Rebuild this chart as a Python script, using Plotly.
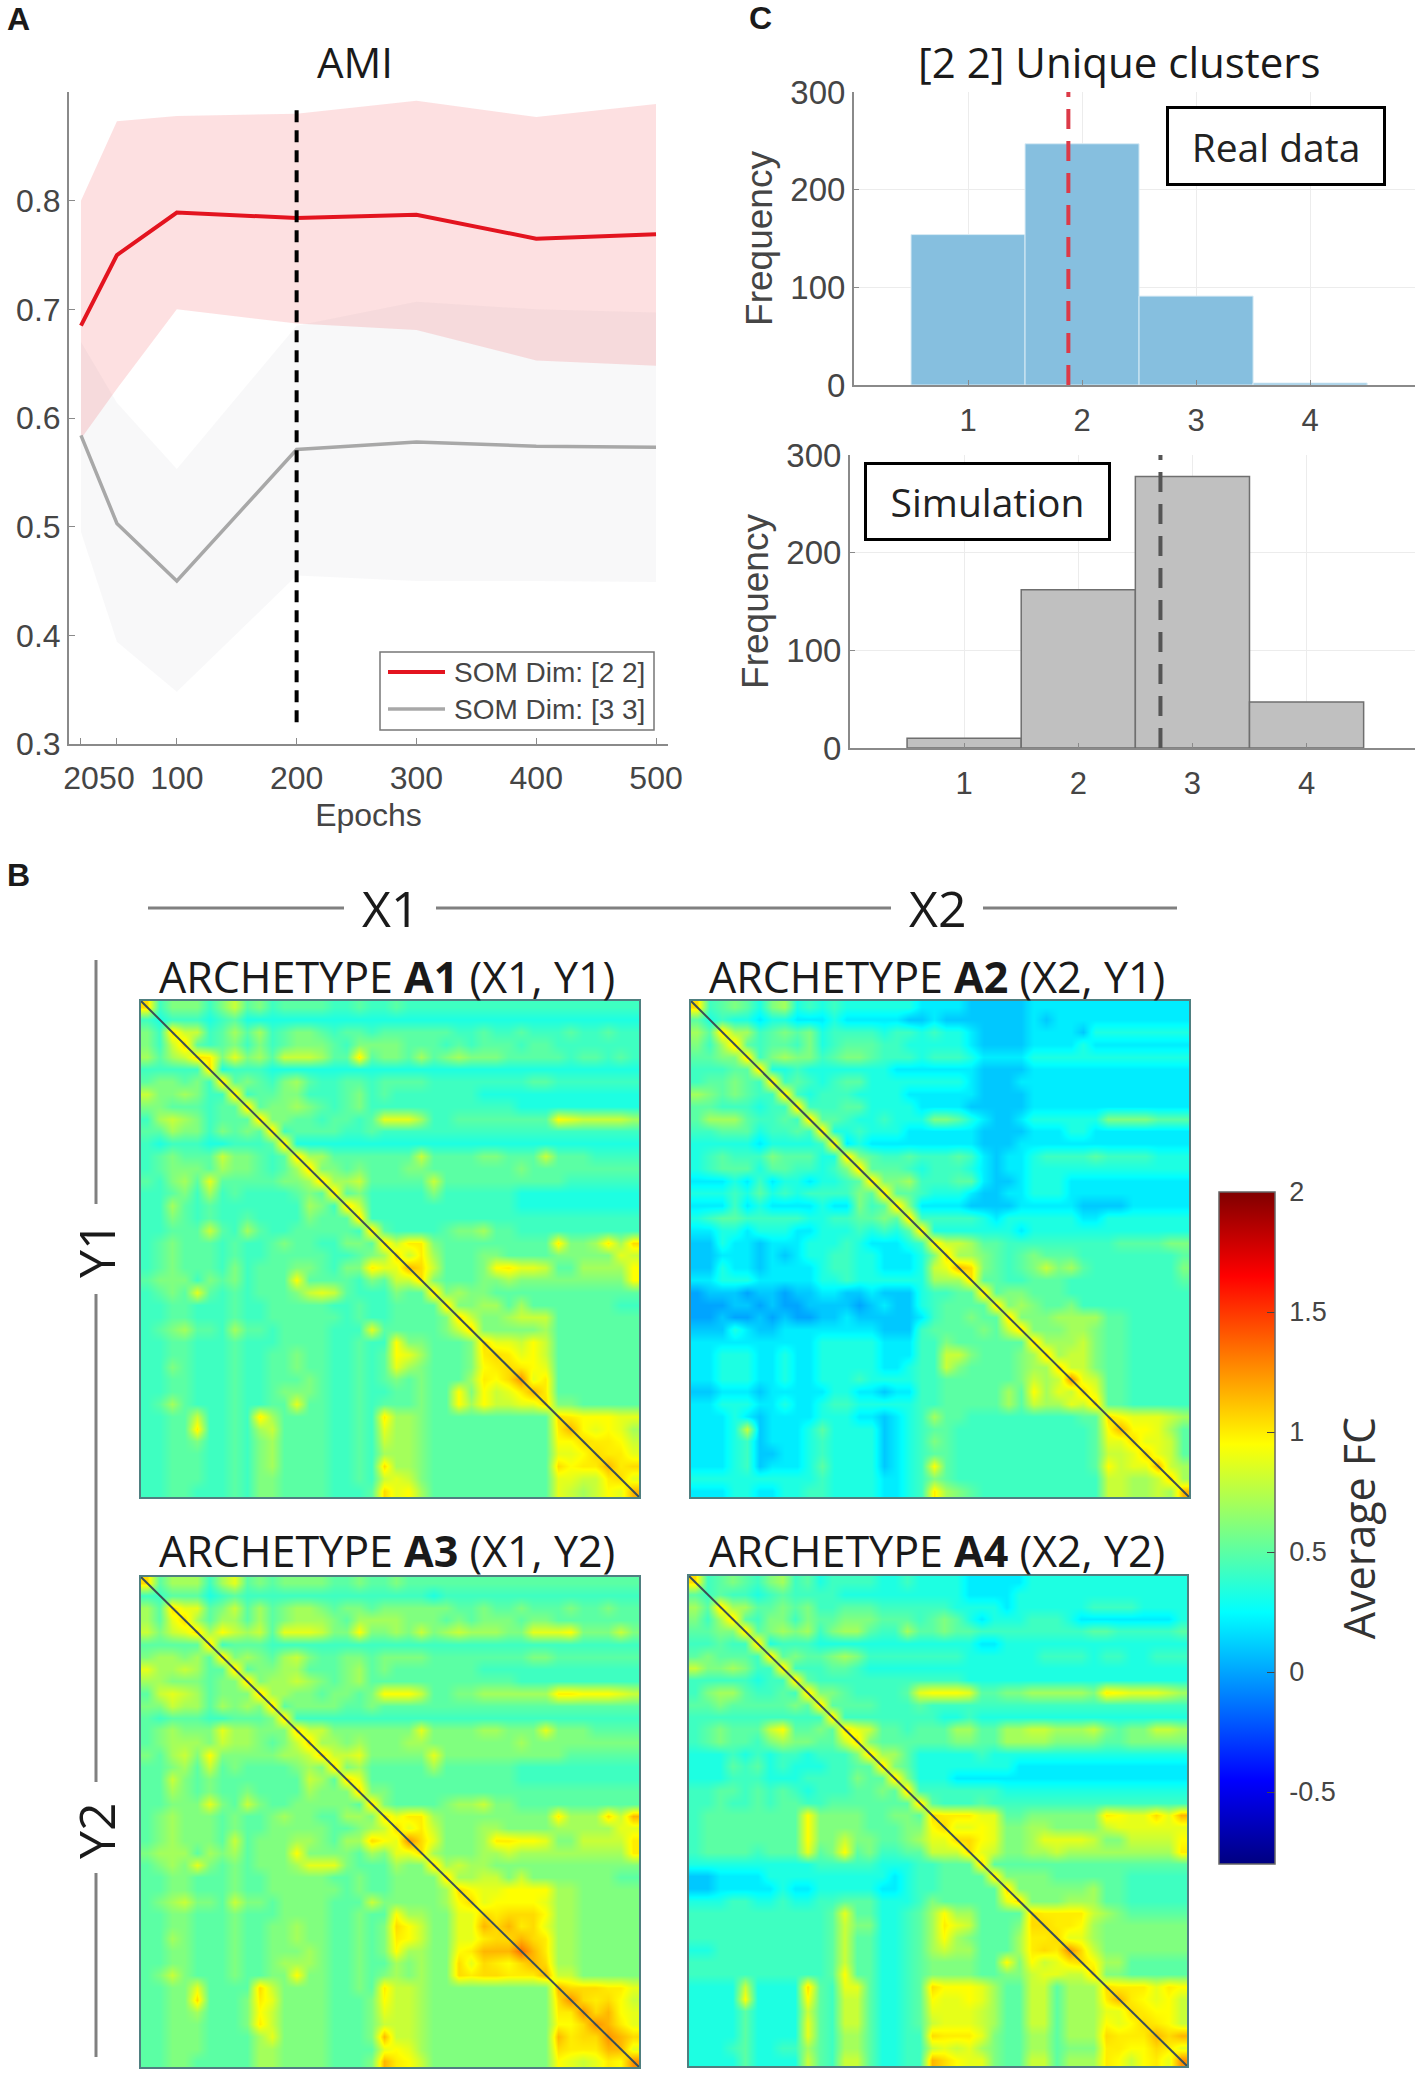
#!/usr/bin/python3
import plotly.graph_objects as go

W = 1417
H = 2097

## Panel A values
epochs = [20, 50, 100, 200, 300, 400, 500]
epoch_labels = ['20', '50', '100', '200', '300', '400', '500']
red_mean = [0.685, 0.750, 0.789, 0.784, 0.787, 0.765, 0.769]
red_upper = [0.800, 0.873, 0.878, 0.880, 0.892, 0.877, 0.889]
red_lower = [0.581, 0.627, 0.700, 0.687, 0.681, 0.653, 0.648]
gray_mean = [0.584, 0.503, 0.450, 0.571, 0.578, 0.574, 0.573]
gray_upper = [0.670, 0.614, 0.553, 0.685, 0.707, 0.700, 0.697]
gray_lower = [0.495, 0.394, 0.348, 0.455, 0.450, 0.450, 0.449]
split_epoch = 200

## Panel C values
clusters = [1, 2, 3, 4]
real_freq = [154, 247, 91, 2]
sim_freq = [10, 162, 278, 47]
real_mean = 1.88
sim_mean = 2.72

## Panel B values. One hex digit per cell, FC = fc_levels[digit]
fc_levels = [0.0, 0.1, 0.2, 0.33, 0.42, 0.5, 0.6, 0.7, 0.8, 0.88, 0.95, 1.0, 1.05, 1.15, 1.25, 1.35]
A1 = [
    "c4666 46856 45555 44544 54444 44444 44444 44444",
    "43444 34533 33333 33333 33333 33333 33333 33333",
    "64c88 45757 45665 45545 55555 44544 54445 44544",
    "648c5 45646 45666 54666 65554 54555 45544 44444",
    "7578c b6967 58887 55b56 65756 76665 55554 55454",
    "44444 c3444 33333 33333 33333 33333 33333 33333",
    "56656 4c565 46754 45545 55544 44444 45544 44444",
    "86676 44c45 56644 45645 44444 44333 33333 33333",
    "66555 455c5 66765 45644 44444 44444 33333 33333",
    "47876 4555c 66554 55459 99744 55555 555a9 88887",
    "55766 46565 c4555 54454 44444 44444 44444 44444",
    "43444 33444 5c333 33333 33333 33333 33333 33333",
    "45655 58665 45c77 55555 55855 55665 55855 54444",
    "45666 57665 457c6 65655 56655 55555 65555 55555",
    "54675 95555 5667c 77855 55585 55555 55554 44444",
    "44564 74544 44565 c5644 44464 44444 33333 33333",
    "44754 54444 44476 4c844 44444 44444 33333 33333",
    "44654 54454 44465 55c44 44444 44444 44444 44444",
    "44555 85475 44555 554c5 44445 66755 44444 44444",
    "45655 54544 56554 4665c 8bb65 55555 555b6 67b7c",
    "45655 54544 55555 44567 c8b75 55665 55566 66698",
    "45655 54645 55665 466b9 9dc85 556ab 99855 7777a",
    "56664 65645 55a55 55465 88c65 55667 66666 6666a",
    "45659 54545 55689 85444 655c6 76655 55555 55555",
    "44554 44544 55555 44544 5555c 66775 75555 55544",
    "44554 44544 55555 54544 55556 c8667 88855 55555",
    "45675 54755 45555 44495 55556 8c666 66755 55555",
    "44554 44544 45555 44544 a6655 56c99 8a855 55555",
    "44554 44544 55655 44545 a9755 56bcb 9a855 55555",
    "44654 44544 55655 44545 97655 56abc ba955 55555",
    "44554 44544 55565 44545 65655 57bac e9b55 55555",
    "44554 44544 56665 44544 55655 a6a89 bdb55 55555",
    "45754 44544 55955 44545 55655 a7a88 99c66 55555",
    "44558 4454b 75555 4454b 77655 55555 555cb aaa99",
    "4455b 44547 85555 44549 77655 55555 555bd a9a97",
    "44556 44546 75555 44548 77655 55555 555aa cbba8",
    "44555 44546 75555 44547 77655 55555 55599 acbb9",
    "44555 44546 75555 4454c 77655 55555 555ca bbdbc",
    "44555 44546 65555 44548 98655 55555 55599 88bc9",
    "44554 44546 65555 4445c 9a755 55555 55598 78a9d",
]
A2 = [
    "c4565 36734 34333 33322 22111 11222 22222 22222",
    "53433 23322 23222 22112 11111 11212 22222 22222",
    "75c77 45656 34444 34434 33211 11222 21333 33333",
    "647c5 45546 34555 44333 33211 11222 23222 22222",
    "5566c 46766 45665 44434 44322 22333 33333 33333",
    "44455 c3343 33333 32222 22211 11222 22222 22222",
    "45565 4c454 34553 33333 33211 12222 22222 22222",
    "76565 44c43 44433 33222 22211 11222 22222 22222",
    "55444 344c4 44553 33322 22111 11222 22222 22222",
    "57775 4454c 55433 43336 65321 12333 33366 66555",
    "44555 34454 c3343 33222 22211 11222 33222 22222",
    "33333 23333 4c232 22222 22211 12222 22222 22222",
    "34544 46555 33c65 44544 45421 22344 44544 44333",
    "34555 35544 346c5 55434 44321 22333 33333 33333",
    "22232 42332 3345c 66744 45521 12333 22222 22222",
    "33343 53434 44465 c5543 33211 22333 22222 22222",
    "22242 32222 32264 5c622 22111 12222 21111 22222",
    "34554 44443 34455 65c44 44432 33333 32233 33333",
    "22332 33322 33343 435c3 33333 32333 33333 33333",
    "11322 12223 33432 2234c 88755 44444 44445 55566",
    "11222 12123 34433 22236 c7765 45655 54444 44445",
    "11322 12222 34433 22238 9dc65 45686 75444 44446",
    "22333 22222 33433 33337 77c55 44555 44444 44445",
    "01110 11011 22112 11134 455c5 66555 44444 44444",
    "00011 01001 11101 21134 5555c 67655 64444 44444",
    "00100 10100 11211 11124 55655 c6667 77755 44444",
    "11132 11222 22222 11145 55565 8c666 77655 44444",
    "22222 22222 33333 22244 65555 55c77 78655 44444",
    "22333 22322 33333 22244 88655 567c7 88655 44444",
    "22333 22322 33333 22344 86555 5677c 88655 44444",
    "22333 22322 33343 33344 55555 56878 e9855 44444",
    "11222 12222 23322 12244 55555 75a79 8c955 44444",
    "22333 22322 34433 33344 55555 75877 98c55 44444",
    "22232 12222 33322 12347 55444 44444 455ca 99987",
    "22238 12223 53333 12345 54444 44444 445ad aa975",
    "22234 12223 43333 12346 54444 44444 44599 c9985",
    "22234 11223 43333 12345 54444 44444 44588 9c985",
    "22234 12223 53333 1234a 54444 44444 445a8 99d87",
    "33333 33333 43333 22346 54444 44444 44488 778c7",
    "22233 22334 43333 2234b 76544 44444 44488 7787d",
]
A3 = [
    "c5777 47956 56666 55655 65555 55555 55555 55555",
    "44555 34544 44444 44444 44434 44444 44444 44444",
    "75c99 56857 56776 56656 66666 55655 65556 55655",
    "759c7 57757 56777 65777 76665 65666 56655 55555",
    "8689c 7a878 59998 66a66 76867 87776 6999a 66686",
    "55555 c4555 44444 44444 44444 44444 44444 44444",
    "67767 5c676 57865 56656 66655 55555 56655 55555",
    "97787 55c56 67755 56756 55555 55444 44444 44444",
    "77666 566c6 77876 56755 55555 55555 44444 44444",
    "58987 5666c 77665 6656a aa855 66777 777bb aaa98",
    "66877 57676 c5666 65565 55555 55555 55555 55555",
    "54555 44555 6c444 44444 44444 44444 44444 44444",
    "56766 69776 66c88 66666 66966 66776 66966 65555",
    "56777 68776 568c7 76766 67766 66666 76666 66666",
    "65786 a6666 6778c 88966 66696 66666 66665 55555",
    "55675 85655 55676 c6755 55575 55555 44444 44444",
    "55865 65555 55587 5c955 55555 55555 44444 44444",
    "55765 65565 55576 66c66 55555 55555 55555 55555",
    "55666 96586 55666 665c6 55556 77866 55555 55555",
    "56766 65655 67665 5776c 9bb76 66666 666b7 77c8d",
    "56766 65655 66666 55678 c9b86 66776 66677 77799",
    "56766 65856 66776 577ca 9ec96 667bb aa966 8888b",
    "67775 76756 66a66 66576 99c76 66778 77777 7777b",
    "56769 65656 66799 96555 766c7 87766 66666 66666",
    "55665 55655 66666 55655 6666c 77886 86666 66655",
    "55665 55655 66666 65655 66667 ca99a aaa77 66666",
    "56786 65866 56666 55586 66667 ac9aa aa977 66666",
    "55665 55655 56666 55655 a7766 99cbc cca77 66666",
    "55665 55655 66766 55656 ca866 99dcd bc977 66666",
    "55765 55655 66766 55656 ba866 99bcc dcb77 66666",
    "55665 55655 66676 55656 a7766 abddd fdb77 66666",
    "55665 55655 67776 55655 76766 c9cba cdc77 66666",
    "56865 55655 66a66 55656 76766 cbccb bbd88 66666",
    "55669 5555c 86666 5565b 88766 66666 666dc ccbb9",
    "5566c 5556b 96666 5556a 88766 66666 666ce cbca8",
    "55667 5556a 86666 55569 88766 66666 666bb ecda9",
    "55666 5556b 86666 55568 88766 66666 666aa cedb9",
    "55666 55557 96666 5556d 88766 66666 666db ccedc",
    "55666 55557 76666 55559 a9766 66666 666cb bbdd9",
    "55665 55557 76666 5556d ba866 66666 666a9 89bae",
]
A4 = [
    "c4565 46745 34444 33433 33222 22333 33333 33333",
    "54544 34544 44333 33333 33222 23333 33333 33333",
    "75c77 55656 44555 44444 43333 23333 33444 43333",
    "647c5 46646 55666 55545 65323 33444 32222 22223",
    "5566c 56767 46775 44755 65544 44444 44554 44445",
    "44544 c3444 33333 33333 33322 33333 33333 33333",
    "56555 4c565 56764 44444 44333 33344 44344 33444",
    "86676 44c44 45543 33333 33333 33333 33333 33333",
    "44444 344c5 44444 44444 44333 33333 33333 33333",
    "46775 4454c 66544 4459a aa955 66777 776ba 99987",
    "55655 55565 c5555 44454 44444 44444 44444 44444",
    "44444 44444 4c444 44444 33433 33333 33333 33333",
    "45655 58a55 65c98 55455 57755 77887 77865 66887",
    "45655 46766 558c6 55555 56655 77776 66655 66666",
    "33343 43443 4446c 77533 33343 33333 33333 33333",
    "33354 53433 34455 c6533 33333 32222 22222 22222",
    "33344 43334 44465 5c633 32222 22222 22222 22222",
    "44554 54543 44455 65c44 44444 33333 33333 33333",
    "44544 54554 45555 555c5 44454 44444 44444 44444",
    "45555 5555a 66665 5665c bbb99 55666 666ba 99c9d",
    "45555 5555a 66665 5566a c99a9 66776 66689 99999",
    "45555 5555a 66866 55679 9cca9 66799 99866 8888a",
    "45555 45559 56a56 44558 88c98 66778 77777 7777b",
    "33333 33333 44444 33344 555c5 55555 55555 55555",
    "11222 23333 33333 32344 5555c 66665 55555 44444",
    "11222 22322 33333 22344 55555 c6666 66755 44444",
    "33344 33433 44555 33346 55555 9c666 77755 44444",
    "44444 44444 45955 33457 a7755 55cbb bb876 55555",
    "44444 44444 45866 33457 b9855 56ccb ba766 66666",
    "44444 44444 45855 33457 a7655 57bbc 99766 66666",
    "33444 44444 45855 33457 87755 57bcb ec866 66666",
    "44444 44444 45855 33456 66655 a6a89 bca77 55555",
    "44444 44444 45a55 33456 66655 66899 88c66 55555",
    "33338 3333c 54995 3345c aaa97 55885 777cb bb9ba",
    "3333a 3333a 54885 3345a 99a97 55885 777bd ba9a8",
    "33335 33338 54885 33459 99987 55885 77799 cbaa8",
    "33335 33339 54885 33458 99987 55885 777a9 acba8",
    "33335 33339 54775 3344c bbb96 55775 777cb bbdcd",
    "33345 33447 54775 33448 98976 55775 666bb aacb9",
    "33335 33338 54885 3344d ca996 55885 777ba 8ab9e",
]
fc_ticks = [-0.5, 0, 0.5, 1, 1.5, 2]
fc_labels = ['\u00a0-0.5', '\u00a00', '\u00a00.5', '\u00a01', '\u00a01.5', '\u00a02']

TICK = '#454545'
AXIS = '#8a8a8a'
GRID = '#ececec'
FRAME = '#4f7f80'
SANS = 'Liberation Sans'
OPEN = 'Open Sans'
RED = '#e3141f'
GREY = '#a8a8a8'
JET = [[0, '#000080'], [0.125, '#0000ff'], [0.375, '#00ffff'], [0.625, '#ffff00'], [0.875, '#ff0000'], [1, '#800000']]


def fx(px):
    return px / W


def fy(px):
    return 1 - px / H


def decode(rows):
    return [[fc_levels[int(c, 16)] for c in r.replace(' ', '')] for r in rows]


fig = go.Figure()

## A: bands first, lines on top
fig.add_trace(go.Scatter(x=epochs + epochs[::-1], y=red_upper + red_lower[::-1], fill='toself',
                         fillcolor='rgba(245,60,70,0.16)', line=dict(width=0), mode='lines',
                         showlegend=False, hoverinfo='skip'))
fig.add_trace(go.Scatter(x=epochs + epochs[::-1], y=gray_upper + gray_lower[::-1], fill='toself',
                         fillcolor='rgba(120,120,130,0.05)', line=dict(width=0), mode='lines',
                         showlegend=False, hoverinfo='skip'))
fig.add_trace(go.Scatter(x=epochs, y=red_mean, mode='lines', name='SOM Dim: [2 2]',
                         line=dict(color=RED, width=4)))
fig.add_trace(go.Scatter(x=epochs, y=gray_mean, mode='lines', name='SOM Dim: [3 3]',
                         line=dict(color=GREY, width=3.5)))
fig.add_trace(go.Scatter(x=[split_epoch, split_epoch], y=[0.32, 0.89], mode='lines', showlegend=False,
                         line=dict(color='black', width=4, dash='12px,8px')))

## C: the two histograms
fig.add_trace(go.Bar(x=clusters, y=real_freq, width=1, xaxis='x2', yaxis='y2', showlegend=False,
                     marker=dict(color='#86bfdf', line=dict(color='#d8ebf5', width=1))))
fig.add_trace(go.Scatter(x=[real_mean, real_mean], y=[0, 300], mode='lines', xaxis='x2', yaxis='y2',
                         showlegend=False, line=dict(color='#dc3a48', width=4, dash='20px,12px')))
fig.add_trace(go.Bar(x=clusters, y=sim_freq, width=1, xaxis='x3', yaxis='y3', showlegend=False,
                     marker=dict(color='#c0c0c0', line=dict(color='#6f6f6f', width=1.5))))
fig.add_trace(go.Scatter(x=[sim_mean, sim_mean], y=[0, 300], mode='lines', xaxis='x3', yaxis='y3',
                         showlegend=False, line=dict(color='#555555', width=4, dash='20px,12px')))

## B: the four archetypes share one colour axis
for n, rows in zip([4, 5, 6, 7], [A1, A2, A3, A4]):
    z = decode(rows)
    fig.add_trace(go.Heatmap(z=z, coloraxis='coloraxis', zsmooth='best', xaxis=f'x{n}', yaxis=f'y{n}'))
    fig.add_trace(go.Scatter(x=[-0.5, len(z) - 0.5], y=[-0.5, len(z) - 0.5], mode='lines', xaxis=f'x{n}',
                             yaxis=f'y{n}', showlegend=False, line=dict(color='#3a4f55', width=2)))


def hist_xaxis(left, right, top_range, anchor):
    return dict(domain=[fx(left), fx(right)], range=[0, top_range], anchor=anchor, tickvals=clusters,
                showgrid=True, gridcolor=GRID, showline=True, linecolor=AXIS, linewidth=2, zeroline=False,
                ticks='inside', ticklen=5, tickcolor=AXIS, ticklabelstandoff=7,
                tickfont=dict(family=SANS, size=31, color=TICK))


def hist_yaxis(top, bottom, anchor):
    return dict(domain=[fy(bottom), fy(top)], range=[0, 300], anchor=anchor, tickvals=[0, 100, 200, 300],
                showgrid=True, gridcolor=GRID, showline=True, linecolor=AXIS, linewidth=2, zeroline=False,
                ticks='inside', ticklen=5, tickcolor=AXIS,
                tickfont=dict(family=SANS, size=33, color=TICK),
                title=dict(text='Frequency', standoff=6, font=dict(family=SANS, size=37, color=TICK)))


def map_axis(lo, hi, anchor, flip=False):
    return dict(domain=[lo, hi], range=[39.5, -0.5] if flip else [-0.5, 39.5], anchor=anchor,
                showticklabels=False, ticks='', showgrid=False, zeroline=False, showline=True,
                linecolor=FRAME, linewidth=2, mirror=True)


fig.update_layout(
    width=W, height=H, margin=dict(l=0, r=0, t=0, b=0, autoexpand=False), paper_bgcolor='white',
    plot_bgcolor='white', showlegend=False,
    xaxis=dict(domain=[fx(69), fx(668)], range=[10, 510], anchor='y', tickvals=epochs, ticktext=epoch_labels,
               tickangle=0, showgrid=False, showline=True, linecolor=AXIS, linewidth=2, zeroline=False,
               ticks='inside', ticklen=6, tickcolor=AXIS, ticklabelstandoff=5,
               tickfont=dict(family=SANS, size=32, color=TICK),
               title=dict(text='Epochs', standoff=8, font=dict(family=SANS, size=32, color=TICK))),
    yaxis=dict(domain=[fy(744), fy(92)], range=[0.3, 0.9], anchor='x', tickvals=[0.3, 0.4, 0.5, 0.6, 0.7, 0.8],
               tickformat='.1f', showgrid=False, showline=True, linecolor=AXIS, linewidth=2, zeroline=False,
               ticks='inside', ticklen=6, tickcolor=AXIS, tickfont=dict(family=SANS, size=32, color=TICK)),
    xaxis2=hist_xaxis(854, 1415, 4.92, 'y2'),
    yaxis2=hist_yaxis(92, 385, 'x2'),
    xaxis3=hist_xaxis(850, 1415, 4.95, 'y3'),
    yaxis3=hist_yaxis(455, 748, 'x3'),
    xaxis4=map_axis(fx(141), fx(639), 'y4'),
    yaxis4=map_axis(fy(1497), fy(1001), 'x4', flip=True),
    xaxis5=map_axis(fx(691), fx(1189), 'y5'),
    yaxis5=map_axis(fy(1497), fy(1001), 'x5', flip=True),
    xaxis6=map_axis(fx(141), fx(639), 'y6'),
    yaxis6=map_axis(fy(2067), fy(1577), 'x6', flip=True),
    xaxis7=map_axis(fx(689), fx(1187), 'y7'),
    yaxis7=map_axis(fy(2066), fy(1576), 'x7', flip=True),
    coloraxis=dict(cmin=-0.8, cmax=2, colorscale=JET,
                   colorbar=dict(x=fx(1219), xanchor='left', y=fy(1864), yanchor='bottom', lenmode='pixels',
                                 len=672, thicknessmode='pixels', thickness=56, outlinecolor='#666666',
                                 outlinewidth=1.5, tickvals=fc_ticks, ticktext=fc_labels, ticks='inside',
                                 ticklen=8, tickcolor='#444444', ypad=0, xpad=0,
                                 tickfont=dict(family=SANS, size=27, color=TICK),
                                 title=dict(text='Average FC', side='right',
                                            font=dict(family=OPEN, size=43, color='#333333')))),
)

labels = [
    ('<b>A</b>', 18, 19, SANS, 32), ('<b>B</b>', 18, 875, SANS, 32), ('<b>C</b>', 760, 18, SANS, 32),
    ('AMI', 355, 62, OPEN, 42), ('[2 2] Unique clusters', 1119, 62, OPEN, 42),
    ('X1', 390, 908, OPEN, 50), ('X2', 937, 908, OPEN, 50),
    ('ARCHETYPE <b>A1</b> (X1, Y1)', 387, 977, OPEN, 43), ('ARCHETYPE <b>A2</b> (X2, Y1)', 937, 977, OPEN, 43),
    ('ARCHETYPE <b>A3</b> (X1, Y2)', 387, 1550, OPEN, 43), ('ARCHETYPE <b>A4</b> (X2, Y2)', 937, 1550, OPEN, 43),
]
for text, x, y, family, size in labels:
    fig.add_annotation(text=text, x=fx(x), y=fy(y), xref='paper', yref='paper', showarrow=False,
                       xanchor='center', yanchor='middle',
                       font=dict(family=family, size=size, color='#1a1a1a'))
for text, y in [('Y1', 1250), ('Y2', 1831)]:
    fig.add_annotation(text=text, x=fx(96), y=fy(y), xref='paper', yref='paper', showarrow=False, textangle=-90,
                       xanchor='center', yanchor='middle',
                       font=dict(family=OPEN, size=50, color='#1a1a1a'))
for text, x, y, bw, bh in [('Real data', 1276, 146, 214, 74), ('Simulation', 987, 501, 241, 73)]:
    fig.add_annotation(text=text, x=fx(x), y=fy(y), xref='paper', yref='paper', showarrow=False, width=bw,
                       height=bh, xanchor='center', yanchor='middle', bgcolor='white', bordercolor='black',
                       borderwidth=3, borderpad=0, font=dict(family=OPEN, size=39, color='#222222'))

rules = [(148, 908, 344, 908), (436, 908, 891, 908), (983, 908, 1177, 908),
         (96, 960, 96, 1204), (96, 1294, 96, 1782), (96, 1873, 96, 2057)]
for x0, y0, x1, y1 in rules:
    fig.add_shape(type='line', xref='paper', yref='paper', x0=fx(x0), y0=fy(y0), x1=fx(x1), y1=fy(y1),
                  line=dict(color='#808080', width=3))

## legend box drawn by hand, the built-in one cannot get this tight
fig.add_shape(type='rect', xref='paper', yref='paper', x0=fx(380), y0=fy(652), x1=fx(654), y1=fy(730),
              fillcolor='white', line=dict(color='#777777', width=1.5))
for name, colour, lw, y in [('SOM Dim: [2 2]', RED, 4, 672), ('SOM Dim: [3 3]', GREY, 3.5, 709)]:
    fig.add_shape(type='line', xref='paper', yref='paper', x0=fx(388), y0=fy(y), x1=fx(445), y1=fy(y),
                  line=dict(color=colour, width=lw))
    fig.add_annotation(text=name, x=fx(452), y=fy(y), xref='paper', yref='paper', showarrow=False,
                       xanchor='left', yanchor='middle', font=dict(family=SANS, size=28, color=TICK))

# the page's default body margin would shift and shrink everything
fig.write_html("out.html", post_script="document.body.style.margin='0';", config={'displayModeBar': False})
